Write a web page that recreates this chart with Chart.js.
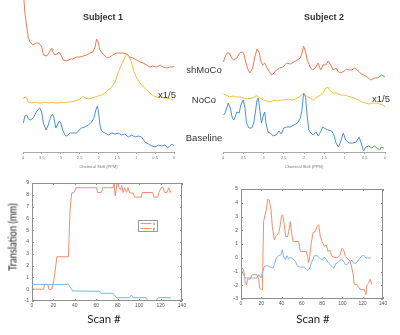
<!DOCTYPE html>
<html>
<head>
<meta charset="utf-8">
<script src="https://cdn.jsdelivr.net/npm/chart.js@4.4.1/dist/chart.umd.min.js"></script>
<style>
  body { margin: 0; background: #fff; }
  #page { position: relative; width: 400px; height: 335px; overflow: hidden; }
  canvas { position: absolute; }
  .lbl { position: absolute; transform: translate(-50%, -50%); white-space: nowrap; color: #333;
         font-family: "Liberation Sans", Arial, sans-serif; }
  .title { font-weight: bold; font-size: 9px; }
  .trace { font-size: 9.5px; }
  .axis { font-family: Lato, "Open Sans", sans-serif; font-size: 11.5px; color: #222; }
</style>
</head>
<body>
<div id="page">
  <canvas id="spec1" width="200" height="170" style="left:0;top:0"></canvas>
  <canvas id="spec2" width="200" height="170" style="left:200px;top:0"></canvas>
  <canvas id="move1" width="200" height="165" style="left:0;top:170px"></canvas>
  <canvas id="move2" width="200" height="165" style="left:200px;top:170px"></canvas>

  <div class="lbl title" style="left:103px;top:17px">Subject 1</div>
  <div class="lbl title" style="left:324px;top:17px">Subject 2</div>
  <div class="lbl trace" style="left:204px;top:69px">shMoCo</div>
  <div class="lbl trace" style="left:204px;top:99px">NoCo</div>
  <div class="lbl trace" style="left:204px;top:137px">Baseline</div>
  <div class="lbl trace" style="left:167px;top:94px">x1/5</div>
  <div class="lbl trace" style="left:381px;top:98px">x1/5</div>
  <div class="lbl axis" style="left:12px;top:237px;font-size:12px;transform:translate(-50%,-50%) rotate(-90deg) scaleX(0.78)">Translation (mm)</div>
  <div class="lbl axis" style="left:104px;top:318px">Scan #</div>
  <div class="lbl axis" style="left:313px;top:318px">Scan #</div>
</div>
<script>
// spectra: [ppm, intensity a.u.], traces stacked
const s1Shmoco = [[4.0,165],[3.95,139],[3.90,125],[3.86,114],[3.81,110],[3.74,107],[3.64,109],[3.58,109],[3.50,105],[3.46,97],[3.37,96],[3.31,99],[3.24,104],[3.21,100],[3.15,97],[3.10,98],[3.05,100],[2.99,97],[2.94,92],[2.84,91],[2.75,93],[2.68,93],[2.58,95],[2.49,95],[2.41,96],[2.31,97],[2.23,99],[2.15,100],[2.09,105],[2.05,113],[2.01,110],[1.96,102],[1.88,98],[1.78,94],[1.70,95],[1.62,97],[1.52,99],[1.43,99],[1.35,99],[1.25,98],[1.17,95],[1.09,94],[0.99,92],[0.90,90],[0.82,89],[0.72,87],[0.64,85],[0.56,86],[0.46,85],[0.37,87],[0.29,85],[0.19,84],[0.11,85],[0.03,85],[0.0,86]];
const s1Noco = [[3.99,53],[3.95,55],[3.90,54],[3.86,50],[3.77,49],[3.68,50],[3.59,49],[3.50,49],[3.42,50],[3.33,49],[3.24,50],[3.15,49],[3.06,49],[2.97,50],[2.89,49],[2.80,50],[2.71,50],[2.62,51],[2.54,52],[2.45,54],[2.40,56],[2.36,54],[2.27,53],[2.18,54],[2.09,55],[2.01,56],[1.92,57],[1.83,59],[1.74,62],[1.65,65],[1.56,70],[1.50,77],[1.43,84],[1.36,90],[1.30,95],[1.25,98],[1.18,95],[1.12,89],[1.06,80],[0.99,74],[0.90,69],[0.81,65],[0.72,62],[0.64,59],[0.55,56],[0.46,55],[0.37,55],[0.28,54],[0.19,54],[0.11,53],[0.02,52]];
const s1Base = [[3.99,29],[3.95,36],[3.90,37],[3.86,33],[3.80,32],[3.73,34],[3.66,39],[3.59,43],[3.55,44],[3.50,39],[3.46,29],[3.39,22],[3.33,27],[3.27,35],[3.22,38],[3.18,34],[3.13,24],[3.09,27],[3.04,31],[3.00,29],[2.95,22],[2.89,17],[2.84,16],[2.75,19],[2.67,19],[2.58,19],[2.51,22],[2.45,24],[2.36,25],[2.27,27],[2.18,30],[2.12,34],[2.07,42],[2.03,46],[2.00,40],[1.96,27],[1.92,21],[1.83,19],[1.74,17],[1.65,19],[1.56,18],[1.48,19],[1.39,17],[1.30,18],[1.21,15],[1.12,17],[1.03,15],[0.95,16],[0.86,15],[0.77,10],[0.68,8],[0.59,6],[0.50,5],[0.42,7],[0.33,6],[0.24,7],[0.17,4],[0.11,6],[0.05,8],[0.0,6]];

const s2Shmoco = [[3.99,90],[3.95,95],[3.90,99],[3.84,99],[3.80,95],[3.74,92],[3.66,94],[3.59,99],[3.53,100],[3.49,99],[3.44,90],[3.38,82],[3.33,79],[3.27,84],[3.22,94],[3.16,103],[3.11,100],[3.06,90],[3.02,87],[2.97,89],[2.91,84],[2.85,80],[2.80,77],[2.74,79],[2.68,82],[2.60,84],[2.52,85],[2.43,89],[2.34,88],[2.25,90],[2.16,92],[2.09,94],[2.05,99],[2.01,106],[1.96,100],[1.92,92],[1.85,85],[1.79,82],[1.72,84],[1.65,89],[1.59,82],[1.53,87],[1.46,87],[1.40,91],[1.34,87],[1.28,82],[1.21,84],[1.15,80],[1.09,79],[1.01,81],[0.95,83],[0.88,82],[0.82,82],[0.75,84],[0.68,82],[0.59,78],[0.53,77],[0.44,75],[0.35,72],[0.26,74],[0.18,74],[0.09,77],[0.0,75]];
const s2Noco = [[3.99,58],[3.93,57],[3.84,55],[3.75,56],[3.66,55],[3.58,55],[3.49,54],[3.40,53],[3.31,54],[3.24,54],[3.20,56],[3.15,56],[3.09,54],[3.00,52],[2.91,51],[2.83,50],[2.74,52],[2.65,51],[2.56,52],[2.47,52],[2.38,53],[2.30,52],[2.21,53],[2.12,55],[2.06,57],[2.01,59],[1.94,56],[1.85,54],[1.77,52],[1.68,55],[1.59,57],[1.52,60],[1.46,64],[1.41,65],[1.37,62],[1.28,59],[1.19,59],[1.10,57],[1.01,57],[0.93,56],[0.84,55],[0.75,54],[0.66,52],[0.57,50],[0.48,49],[0.40,48],[0.31,49],[0.22,49],[0.13,48],[0.06,47],[0.0,45]];
const s2Base = [[3.99,37],[3.95,39],[3.90,45],[3.87,49],[3.82,44],[3.77,34],[3.73,32],[3.66,40],[3.60,39],[3.56,47],[3.50,52],[3.46,45],[3.42,29],[3.36,24],[3.29,24],[3.24,29],[3.20,40],[3.16,52],[3.13,54],[3.09,42],[3.05,29],[3.00,37],[2.97,40],[2.94,29],[2.89,20],[2.83,19],[2.76,16],[2.69,17],[2.62,21],[2.56,18],[2.50,24],[2.43,25],[2.34,25],[2.25,27],[2.16,29],[2.09,34],[2.05,42],[2.01,59],[1.96,55],[1.93,39],[1.88,22],[1.83,19],[1.77,17],[1.70,20],[1.65,16],[1.59,20],[1.54,25],[1.50,24],[1.41,22],[1.32,21],[1.26,17],[1.21,9],[1.15,5],[1.09,11],[1.03,19],[0.97,12],[0.88,9],[0.79,9],[0.71,10],[0.64,15],[0.59,9],[0.53,1],[0.47,5],[0.40,6],[0.33,4],[0.26,6],[0.20,4],[0.13,2],[0.09,5],[0.03,4]];

// translation (mm) vs scan #: [scan, mm]
const s1TransX = [[0,0.25],[1.5,0.4],[34,0.4],[36.2,0.1],[38,-0.15],[63.3,-0.18],[64.3,-0.35],[75.7,-0.35],[78.8,-0.72],[91.2,-0.72],[92.7,-0.5],[94.3,-0.72],[106.6,-0.72],[108.2,-1.0],[115.9,-1.0],[117.4,-0.72],[129.8,-0.72]];
const s1TransY = [[0,0],[10.8,0],[11.7,0.4],[14.8,0.4],[15.8,0],[18.5,0],[19.5,0.4],[21,1.1],[23.2,2.75],[34,2.75],[35.5,6.7],[37.1,8.15],[39.2,8.2],[41.1,8.6],[60.3,8.6],[61.2,8.2],[64.9,8.2],[65.8,8.6],[75.7,8.6],[76.6,9.0],[77.6,7.9],[78.5,8.4],[79.4,9.0],[80.3,9.0],[81.3,8.6],[82.8,8.4],[83.7,8.8],[85,8.2],[86.5,8.6],[88.1,8.2],[89.6,8.6],[91.2,8.15],[94.3,8.15],[95.8,7.8],[102,7.8],[102.9,8.2],[112.8,8.2],[113.7,7.8],[117.4,7.8],[118.4,8.2],[120.5,8.6],[122.7,8.6],[123.6,8.2],[126.1,8.2],[127.6,8.6],[129.2,8.2],[129.8,8.35]];
const s2TransX = [[0,-0.82],[1.6,-1.11],[4.3,-1.47],[15.8,-1.47],[17.4,-1.23],[19.7,-1.47],[21,-1.11],[23,-0.63],[25.6,-0.56],[28.9,-0.68],[31.5,-0.75],[32.9,-0.5],[34.8,-0.02],[37.1,0.15],[39.4,0.22],[40.7,0.58],[42.1,0.05],[43.7,-0.14],[45.3,0.15],[47,-0.1],[48.6,0.05],[51.3,-0.1],[53.6,-0.27],[55.9,-0.63],[58.5,-0.68],[61.8,-0.68],[64.4,-0.82],[66.1,-0.94],[67.7,-0.75],[70,-0.27],[72.3,0.15],[74.9,0.15],[77.6,-0.02],[79.9,-0.19],[82.2,0.05],[84.1,-0.14],[86.4,-0.39],[89.7,-0.63],[91.4,-0.75],[94,-0.39],[96.3,-0.27],[98.6,-0.14],[100.6,-0.19],[102.9,-0.5],[104.5,-0.5],[107.1,-0.27],[109.4,-0.19],[111.1,-0.39],[113.7,-0.39],[116,-0.14],[119.3,0.15],[121.6,0.15],[123.2,-0.02],[125.9,-0.02],[128.2,-0.02]];
const s2TransY = [[0,-0.87],[1,-0.75],[2.6,-0.87],[4.3,-1.84],[5.3,-1.96],[6.6,-1.55],[9.2,-1.55],[10.8,-1.23],[15.8,-1.23],[17.4,-1.55],[18.4,-2.2],[20,-2.32],[21,-2.32],[22.3,2.63],[24,3.24],[25,3.48],[26.3,4.25],[27.9,4.2],[29.6,3.48],[30.9,2.27],[32.9,1.3],[34.2,1.55],[36.1,1.67],[37.5,1.9],[38.8,2.4],[39.8,3.0],[41.1,3.12],[42.7,2.39],[44,1.55],[46,1.55],[47,1.9],[48.6,2.63],[49.9,1.79],[51.3,1.18],[56.9,1.18],[58.5,0.46],[64.4,0.46],[65.7,0.1],[66.7,-0.39],[67.7,0.1],[69.3,1.06],[71,1.84],[73.3,1.9],[74.9,2.27],[76.6,2.39],[78.2,1.55],[79.9,1.18],[82.2,0.82],[84.1,0.94],[85.8,0.46],[87.4,0.58],[89.7,0.1],[94.6,-0.02],[97.3,0.15],[99.6,0.7],[101.2,0.58],[102.9,0.1],[104.5,-0.02],[107.8,-0.27],[110.4,-1.11],[111.7,-1.96],[114.4,-1.96],[117.6,-2.32],[121.6,-2.32],[123.2,-2.68],[124.2,-1.96],[125.9,-1.84],[127.5,-1.55],[128.8,-1.96]];

const ppmTicks = [4, 3.5, 3, 2.5, 2, 1.5, 1, 0.5, 0];

const ORANGE = '#ec7a52', YELLOW = '#f4bb3f', BLUE = '#4b90d6';
const ORANGE_L = '#f28d6c', BLUE_L = '#7db6e6';

const pts = arr => arr.map(([x, y]) => ({ x, y }));

function line(data, color, label) {
    return { label, data: pts(data), borderColor: color, borderWidth: 1, pointRadius: 0, tension: 0, fill: false };
}

// MATLAB-like box with inward ticks
const boxPlugin = {
    id: 'box',
    afterDraw(chart) {
        const { ctx, chartArea: a, scales } = chart;
        ctx.save();
        ctx.strokeStyle = '#8f8f8f';
        ctx.lineWidth = 1;
        ctx.strokeRect(a.left + 0.5, a.top + 0.5, a.right - a.left - 1, a.bottom - a.top - 1);
        ctx.beginPath();
        scales.x.ticks.forEach(t => {
            const p = Math.round(scales.x.getPixelForValue(t.value)) + 0.5;
            ctx.moveTo(p, a.bottom); ctx.lineTo(p, a.bottom - 2);
            ctx.moveTo(p, a.top); ctx.lineTo(p, a.top + 2);
        });
        scales.y.ticks.forEach(t => {
            const p = Math.round(scales.y.getPixelForValue(t.value)) + 0.5;
            ctx.moveTo(a.left, p); ctx.lineTo(a.left + 2, p);
            ctx.moveTo(a.right, p); ctx.lineTo(a.right - 2, p);
        });
        ctx.stroke();
        ctx.restore();
    },
};

// little legend box inside the plot (subject 1)
const legendPlugin = {
    id: 'boxLegend',
    afterDraw(chart) {
        const { ctx, scales } = chart;
        const x0 = Math.round(scales.x.getPixelForValue(99)) + 0.5;
        const y0 = Math.round(scales.y.getPixelForValue(5.85)) + 0.5;
        ctx.save();
        ctx.fillStyle = '#fff';
        ctx.fillRect(x0, y0, 19, 11);
        ctx.strokeStyle = '#999';
        ctx.strokeRect(x0, y0, 19, 11);
        ctx.font = '4px "Liberation Sans"';
        ctx.textBaseline = 'middle';
        chart.data.datasets.forEach((ds, i) => {
            const y = y0 + 3 + i * 5;
            ctx.strokeStyle = ds.borderColor;
            ctx.beginPath(); ctx.moveTo(x0 + 2, y); ctx.lineTo(x0 + 13, y); ctx.stroke();
            ctx.fillStyle = '#444';
            ctx.fillText(ds.label, x0 + 14.5, y);
        });
        ctx.restore();
    },
};

function spectrum(id, sets, padRight) {
    new Chart(document.getElementById(id), {
        type: 'line',
        data: { datasets: sets },
        options: {
            responsive: false,
            animation: false,
            layout: { padding: { left: 23, right: padRight, top: 0, bottom: 0 } },
            plugins: { legend: { display: false }, tooltip: { enabled: false } },
            scales: {
                x: {
                    type: 'linear', reverse: true, min: 0, max: 4,
                    afterBuildTicks: s => { s.ticks = ppmTicks.map(v => ({ value: v })); },
                    afterFit: s => { s.height = 18; },
                    grid: { drawOnChartArea: false, tickLength: 2, color: '#aaa' },
                    border: { color: '#aaa' },
                    ticks: { font: { size: 4, family: 'Liberation Sans' }, color: '#777', padding: 1, maxRotation: 0,
                             callback: v => String(v) },
                    title: { display: true, text: 'Chemical Shift (PPM)', font: { size: 4, family: 'Liberation Sans' }, color: '#777', padding: 1 },
                },
                y: { display: false, min: 0, max: 152 },
            },
        },
    });
}

spectrum('spec1', [line(s1Shmoco, ORANGE, 'shMoCo'), line(s1Noco, YELLOW, 'NoCo'), line(s1Base, BLUE, 'Baseline')], 26);
spectrum('spec2', [line(s2Shmoco, ORANGE, 'shMoCo'), line(s2Noco, YELLOW, 'NoCo'), line(s2Base, BLUE, 'Baseline')], 15);

function motion(id, sets, yMin, yMax, pad, yWidth, xHeight, extra) {
    new Chart(document.getElementById(id), {
        type: 'line',
        data: { datasets: sets },
        options: {
            responsive: false,
            animation: false,
            layout: { padding: pad },
            plugins: { legend: { display: false }, tooltip: { enabled: false } },
            scales: {
                x: {
                    type: 'linear', min: 0, max: 140,
                    afterFit: s => { s.height = xHeight; },
                    grid: { display: false, drawTicks: false }, border: { display: false },
                    ticks: { stepSize: 20, font: { size: 5, family: 'Liberation Sans' }, color: '#555', padding: 2, maxRotation: 0 },
                },
                y: {
                    min: yMin, max: yMax,
                    afterFit: s => { s.width = yWidth; },
                    grid: { display: false, drawTicks: false }, border: { display: false },
                    ticks: { stepSize: 1, font: { size: 5, family: 'Liberation Sans' }, color: '#555', padding: 3 },
                },
            },
        },
        plugins: [boxPlugin].concat(extra),
    });
}

motion('move1', [line(s1TransX, BLUE_L, 'x'), line(s1TransY, ORANGE_L, 'y')], -1, 9,
    { left: 0, right: 18, top: 13, bottom: 0 }, 32, 34, [legendPlugin]);
motion('move2', [line(s2TransX, BLUE_L, 'x'), line(s2TransY, ORANGE_L, 'y')], -3, 5,
    { left: 0, right: 17, top: 19, bottom: 0 }, 41, 36, []);
</script>
</body>
</html>
